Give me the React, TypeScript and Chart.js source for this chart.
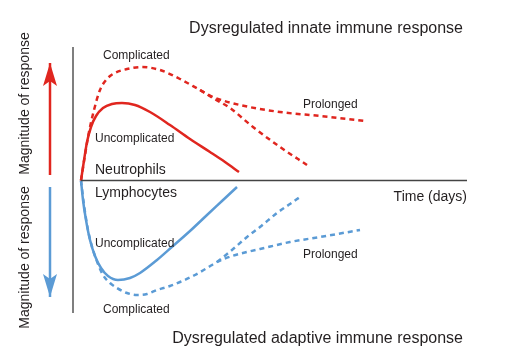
import React, { useEffect, useRef } from "react";
import { Chart, registerables } from "chart.js";

Chart.register(...registerables);

// Time in days (x) and magnitude of response (y, + innate / - adaptive)
const neutroUncompX = [0, 0.3, 0.6, 1.0, 1.5, 2.2, 3.1, 4.1, 5.4, 6.9, 8.9, 10.9, 12.9, 14.4, 15.8];
const neutroUncompY = [0, 2.0, 3.85, 5.35, 6.45, 7.25, 7.65, 7.75, 7.55, 6.85, 5.55, 4.15, 2.85, 1.85, 0.85];

const neutroProlongedX = [0, 0.4, 0.8, 1.3, 1.9, 2.5, 3.2, 4.6, 6.1, 7.9, 9.9, 11.9, 13.2, 15.9, 19.9, 23.9, 28.4];
const neutroProlongedY = [0, 2.55, 4.85, 7.05, 9.05, 10.05, 10.65, 11.15, 11.35, 11.05, 10.15, 9.05, 8.35, 7.55, 6.85, 6.45, 5.95];

const neutroCompX = [11.9, 13.2, 14.9, 17.2, 19.9, 22.6];
const neutroCompY = [9.05, 8.25, 7.25, 5.35, 3.35, 1.55];

const lymphoUncompX = [0, 0.2, 0.5, 0.9, 1.4, 2.0, 2.7, 3.7, 4.9, 5.9, 7.6, 9.2, 10.9, 12.6, 14.1, 15.6];
const lymphoUncompY = [0, -1.95, -3.95, -5.95, -7.55, -8.75, -9.55, -9.95, -9.75, -9.25, -7.95, -6.55, -5.05, -3.45, -2.05, -0.65];

const lymphoProlongedX = [0, 0.3, 0.7, 1.2, 1.7, 2.2, 2.9, 3.6, 4.6, 5.6, 6.6, 7.6, 8.9, 9.9, 11.4, 12.6, 13.6, 15.1, 16.6, 17.9, 20.9, 23.9, 27.9];
const lymphoProlongedY = [0, -2.45, -4.95, -6.95, -8.35, -9.45, -10.25, -10.75, -11.25, -11.45, -11.35, -10.95, -10.55, -10.15, -9.45, -8.75, -8.15, -7.55, -7.15, -6.85, -6.15, -5.65, -4.95];

const lymphoCompX = [13.6, 15.1, 16.6, 17.9, 19.6, 20.9, 21.9];
const lymphoCompY = [-8.15, -6.95, -5.65, -4.65, -3.25, -2.35, -1.65];

const timeAxisX = [0, 38.6];
const timeAxisY = [0, 0];
const magAxisX = [-0.8, -0.8];
const magAxisY = [13.35, -13.25];

const upArrowX = [-3.1, -3.1];
const upArrowY = [0.55, 11.75];
const downArrowX = [-3.1, -3.1];
const downArrowY = [-0.65, -11.65];

const X_MIN = -8.1;
const X_MAX = 43.2;
const Y_MIN = -17.45;
const Y_MAX = 18.05;

const RED = "#e0261f";
const BLUE = "#5b9bd5";
const TEXT = "#231f20";
const FONT = "'Liberation Sans', Arial, sans-serif";

const zip = (xs: number[], ys: number[]) => xs.map((x, i) => ({ x, y: ys[i] }));

type Lbl = { text: string; x: number; y: number; size: number; align: CanvasTextAlign; rot?: boolean };
const labels: Lbl[] = [
  { text: "Dysregulated innate immune response", x: 463, y: 28.5, size: 16, align: "right" },
  { text: "Dysregulated adaptive immune response", x: 463, y: 338.5, size: 16, align: "right" },
  { text: "Complicated", x: 103, y: 55.5, size: 12, align: "left" },
  { text: "Uncomplicated", x: 95, y: 138.5, size: 12, align: "left" },
  { text: "Neutrophils", x: 95, y: 170.5, size: 14, align: "left" },
  { text: "Prolonged", x: 303, y: 104.5, size: 12, align: "left" },
  { text: "Lymphocytes", x: 95, y: 193.5, size: 14, align: "left" },
  { text: "Uncomplicated", x: 95, y: 243.5, size: 12, align: "left" },
  { text: "Complicated", x: 103, y: 309.5, size: 12, align: "left" },
  { text: "Prolonged", x: 303, y: 254.5, size: 12, align: "left" },
  { text: "Time (days)", x: 467, y: 197.5, size: 14, align: "right" },
  { text: "Magnitude of response", x: 25.5, y: 103.5, size: 14, align: "center", rot: true },
  { text: "Magnitude of response", x: 25.5, y: 257.5, size: 14, align: "center", rot: true },
];

const overlayPlugin = {
  id: "overlay",
  afterDatasetsDraw(chart: any) {
    const ctx = chart.ctx as CanvasRenderingContext2D;
    const xs = chart.scales.x;
    const ys = chart.scales.y;
    const heads = [
      { x: upArrowX[1], y: upArrowY[1], dir: -1, color: RED },
      { x: downArrowX[1], y: downArrowY[1], dir: 1, color: BLUE },
    ];
    for (const h of heads) {
      const px = xs.getPixelForValue(h.x);
      const py = ys.getPixelForValue(h.y);
      ctx.save();
      ctx.fillStyle = h.color;
      ctx.beginPath();
      ctx.moveTo(px, py);
      ctx.lineTo(px + 7, py - h.dir * 23);
      ctx.lineTo(px, py - h.dir * 18);
      ctx.lineTo(px - 7, py - h.dir * 23);
      ctx.closePath();
      ctx.fill();
      ctx.restore();
    }
    for (const l of labels) {
      ctx.save();
      ctx.fillStyle = TEXT;
      ctx.font = `${l.size}px ${FONT}`;
      ctx.textAlign = l.align;
      ctx.textBaseline = "middle";
      if (l.rot) {
        ctx.translate(l.x, l.y);
        ctx.rotate(-Math.PI / 2);
        ctx.fillText(l.text, 0, 0);
      } else {
        ctx.fillText(l.text, l.x, l.y);
      }
      ctx.restore();
    }
  },
};

export default function App() {
  const ref = useRef<HTMLCanvasElement | null>(null);
  useEffect(() => {
    if (!ref.current) return;
    const curve = (xs: number[], ys: number[], color: string, dashed: boolean) => ({
      data: zip(xs, ys),
      borderColor: color,
      borderWidth: 2.5,
      borderDash: dashed ? [5, 4] : [],
      borderCapStyle: "butt",
      pointRadius: 0,
      fill: false,
      cubicInterpolationMode: "monotone",
    });
    const straight = (xs: number[], ys: number[], color: string, w: number) => ({
      data: zip(xs, ys),
      borderColor: color,
      borderWidth: w,
      pointRadius: 0,
      fill: false,
      tension: 0,
    });
    const chart = new Chart(ref.current, {
      type: "line",
      data: {
        datasets: [
          straight(timeAxisX, timeAxisY, "#444444", 1.5),
          straight(magAxisX, magAxisY, "#555555", 1.5),
          straight(upArrowX, upArrowY, RED, 2.5),
          straight(downArrowX, downArrowY, BLUE, 2.5),
          curve(neutroUncompX, neutroUncompY, RED, false),
          curve(neutroProlongedX, neutroProlongedY, RED, true),
          curve(neutroCompX, neutroCompY, RED, true),
          curve(lymphoUncompX, lymphoUncompY, BLUE, false),
          curve(lymphoProlongedX, lymphoProlongedY, BLUE, true),
          curve(lymphoCompX, lymphoCompY, BLUE, true),
        ] as any,
      },
      options: {
        animation: false,
        responsive: false,
        layout: { padding: 0 },
        plugins: { legend: { display: false }, tooltip: { enabled: false } },
        scales: {
          x: { type: "linear", display: false, min: X_MIN, max: X_MAX },
          y: { type: "linear", display: false, min: Y_MIN, max: Y_MAX },
        },
      },
      plugins: [overlayPlugin],
    });
    return () => chart.destroy();
  }, []);
  return (
    <div style={{ position: "fixed", left: 0, top: 0, width: 513, height: 355, background: "#fff" }}>
      <canvas ref={ref} width={513} height={355} />
    </div>
  );
}
